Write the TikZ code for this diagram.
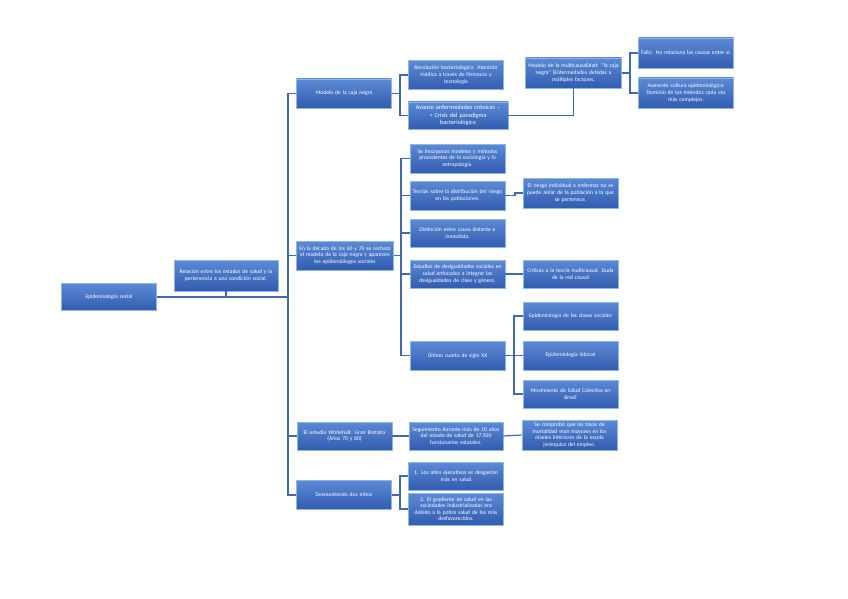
\documentclass[tikz,border=0pt]{standalone}
\usepackage{fontspec}
\setmainfont{Carlito}
\usetikzlibrary{shadows}
\definecolor{boxtop}{RGB}{92,138,214}
\definecolor{boxbot}{RGB}{50,92,176}
\definecolor{boxedge}{RGB}{140,182,236}
\definecolor{linkc}{RGB}{66,104,176}
\begin{document}
\begin{tikzpicture}[x=1pt,y=-1pt,
  box/.style={rectangle, top color=boxtop, bottom color=boxbot, draw=boxedge,
    line width=0.7pt, text=white, align=center,
    font=\fontsize{5.6}{6.6}\selectfont, inner sep=1pt,
    minimum width=95pt, text width=90pt, minimum height=29pt,
    drop shadow={shadow xshift=0.8pt,shadow yshift=-0.9pt,opacity=0.35}},
  big/.style={font=\fontsize{6.2}{7.4}\selectfont},
  link/.style={draw=linkc, line width=1.2pt}
]
\useasboundingbox[fill=white] (0,0) rectangle (848,599);

% level 0
\node[box, minimum height=27pt] (root) at (109,297) {Epidemiología social};
\node[box, minimum width=104pt, text width=99pt, minimum height=31pt] (rel) at (226,275.5)
  {Relación entre los estados de salud y la\\pertenencia a una condición social.};

% level 1
\node[box] (m1) at (344,93.5) {Modelo de la caja negra};
\node[box, minimum width=97pt, text width=92pt] (m2) at (345,255.5)
  {En la década de los 60 y 70 se rechaza\\el modelo de la caja negra y aparecen\\los epidemiólogos sociales};
\node[box, minimum height=28pt] (m3) at (344.5,436)
  {El estudio Whitehall: Gran Bretaña\\(Años 70 y 80)};
\node[box, minimum height=29pt] (m4) at (344,495) {Desmontando dos mitos};

% branch 1
\node[box] (a1) at (456,75)
  {Revolución bacteriológica: Atención\\médica a través de fármacos y\\tecnología};
\node[box, big, minimum width=100pt, text width=95pt, minimum height=27pt] (a2) at (458,115.5)
  {Avance enfermedades crónicas –\\> Crisis del paradigma\\bacteriológico};
\node[box, minimum width=96pt, text width=91pt, minimum height=30pt] (mc) at (573.5,73)
  {Modelo de la multicausalidad: “la caja\\negra” (Enfermedades debidas a\\múltiples factores.};
\node[box, minimum height=30pt] (f1) at (686,53) {Fallo: No relaciona las causas entre sí.};
\node[box, minimum height=30pt] (f2) at (686,93)
  {Aumento cultura epidemiológica:\\Dominio de los métodos cada vez\\más complejos.};

% branch 2
\node[box] (b1) at (457.5,158.5)
  {Se incorporan modelos y métodos\\procedentes de la sociología y la\\antropología.};
\node[box] (b2) at (457.5,195.5)
  {Teorías sobre la distribución del riesgo\\en las poblaciones.};
\node[box, minimum height=30pt] (c1) at (570.5,193)
  {El riesgo individual a enfermar no se\\puede aislar de la población a la que\\se pertenece.};
\node[box, minimum height=28pt] (b3) at (457.5,233)
  {Distinción entre causa distante e\\inmediata.};
\node[box, minimum height=28pt] (b4) at (457.5,274)
  {Estudios de desigualdades sociales en\\salud enfocados a integrar las\\desigualdades de clase y género.};
\node[box, minimum height=28pt] (c2) at (570.5,274)
  {Críticas a la teoría multicausal: Duda\\de la red causal};
\node[box] (b5) at (457.5,355.5) {Último cuarto de siglo XX};
\node[box, minimum height=28pt] (d1) at (570.5,316) {Epidemiología de las clases sociales};
\node[box] (d2) at (570.5,355.5) {Epidemiología laboral};
\node[box, minimum height=28pt] (d3) at (570.5,394)
  {Movimiento de Salud Colectiva en\\Brasil};

% branch 3
\node[box, minimum width=94pt, text width=89pt, minimum height=28pt] (e1) at (456,436)
  {Seguimiento durante más de 10 años\\del estado de salud de 17.500\\funcionarios estatales.};
\node[box, minimum height=30pt] (e2) at (569.5,435)
  {Se comprobó que las tasas de\\mortalidad eran mayores en los\\niveles inferiores de la escala\\jerárquica del empleo.};

% branch 4
\node[box, minimum height=28pt] (g1) at (456,476)
  {1. Los altos ejecutivos se desgastan\\más en salud};
\node[box, minimum height=32pt] (g2) at (456,509)
  {2. El gradiente de salud en las\\sociedades industrializadas era\\debido a la pobre salud de los más\\desfavorecidos.};

% junction coordinates
\coordinate (t0) at (288,297);
\coordinate (j1) at (400,93.5);
\coordinate (j2) at (401,255.5);
\coordinate (j3) at (630,73);
\coordinate (j4) at (515,195.5);
\coordinate (j5) at (514,355.5);
\coordinate (j6) at (400,495);

% connectors
\draw[link] (root.east) -- (t0);
\draw[link] (rel.south) -- (rel.south |- t0);
\draw[link] (t0) |- (m1.west);
\draw[link] (t0) |- (m2.west);
\draw[link] (t0) |- (m3.west);
\draw[link] (t0) |- (m4.west);

\draw[link] (m1.east) -- (j1) |- (a1.west);
\draw[link] (j1) |- (a2.west);
\draw[link] (a2.east) -| (mc.south);
\draw[link] (mc.east) -- (j3) |- (f1.west);
\draw[link] (j3) |- (f2.west);

\draw[link] (m2.east) -- (j2) |- (b1.west);
\draw[link] (j2) |- (b2.west);
\draw[link] (j2) |- (b3.west);
\draw[link] (j2) |- (b4.west);
\draw[link] (j2) |- (b5.west);
\draw[link] (b2.east) -- (j4) |- (c1.west);
\draw[link] (b4.east) -- (c2.west);
\draw[link] (b5.east) -- (j5) |- (d1.west);
\draw[link] (j5) |- (d2.west);
\draw[link] (j5) |- (d3.west);

\draw[link] (m3.east) -- (e1.west);
\draw[link] (e1.east) -- (e2.west);

\draw[link] (m4.east) -- (j6) |- (g1.west);
\draw[link] (j6) |- (g2.west);
\end{tikzpicture}
\end{document}
